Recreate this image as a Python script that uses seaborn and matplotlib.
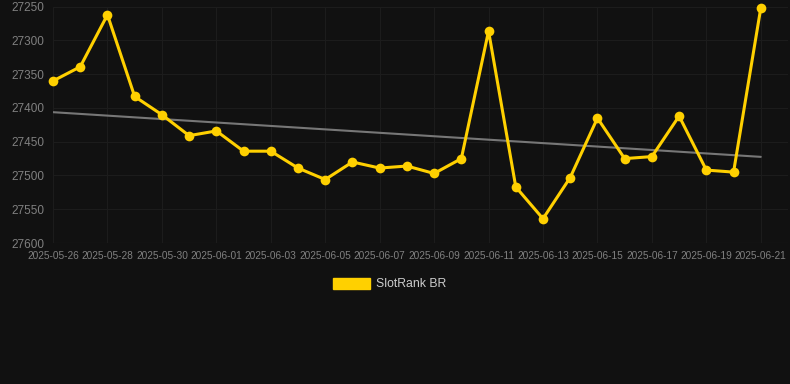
import numpy as np
import pandas as pd
import matplotlib
matplotlib.use('Agg')
import matplotlib.pyplot as plt
import matplotlib.dates as mdates
import seaborn as sns

# ── Data ──────────────────────────────────────
dates = pd.date_range('2025-05-26', '2025-06-21', freq='D')
ranks = [27360, 27339, 27262, 27383, 27410, 27441, 27434, 27464, 27464,
         27489, 27506, 27480, 27489, 27486, 27497, 27475, 27286, 27517,
         27564, 27503, 27415, 27475, 27472, 27412, 27492, 27495, 27252]
series_name = 'SlotRank BR'

BG = '#111111'
GOLD = '#FFD000'

sns.set_theme(style='dark')
plt.rcParams['font.family'] = ['Liberation Sans', 'DejaVu Sans']

df = pd.DataFrame({'date': dates, 'rank': ranks})

fig = plt.figure(figsize=(7.9, 3.84), dpi=100, facecolor=BG)
ax = fig.add_axes([53 / 790, 1 - 243 / 384, 735 / 790, 236.3 / 384])
ax.set_facecolor(BG)

# trend line (least squares over the series)
xn = np.arange(len(ranks))
k, b = np.polyfit(xn, ranks, 1)
ax.plot(df['date'], k * xn + b, color='#777777', linewidth=1.5, zorder=2)

sns.lineplot(data=df, x='date', y='rank', ax=ax, color=GOLD,
             linewidth=2.2, marker='o', markersize=7, markeredgewidth=0,
             label=series_name, zorder=3, legend=False, clip_on=False)

ax.set_ylim(27600, 27250)
ax.set_yticks([27250, 27300, 27350, 27400, 27450, 27500, 27550, 27600])
ax.set_xlim(pd.Timestamp('2025-05-26'), pd.Timestamp('2025-06-22'))
ax.set_xticks(dates[::2])
ax.xaxis.set_major_formatter(mdates.DateFormatter('%Y-%m-%d'))

ax.grid(True, color='#1c1c1c', linewidth=0.8)
for s in ax.spines.values():
    s.set_visible(False)
ax.axhline(27600, color='#2a2a2a', linewidth=0.8, zorder=1)
ax.tick_params(axis='y', colors='#808080', labelsize=8.5, length=0, pad=6)
ax.tick_params(axis='x', colors='#808080', labelsize=7.3, length=4,
               color='#2a2a2a', pad=2)
ax.set_xlabel('')
ax.set_ylabel('')

handle = plt.Rectangle((0, 0), 1, 1, color=GOLD)
leg = fig.legend([handle], [series_name], loc='center',
                 bbox_to_anchor=(390 / 790, 1 - 284 / 384), frameon=False,
                 handlelength=3.0, handleheight=1.0, handletextpad=0.5,
                 fontsize=8.8)
for t in leg.get_texts():
    t.set_color('#cccccc')

fig.savefig('out.png', dpi=100, facecolor=BG)
